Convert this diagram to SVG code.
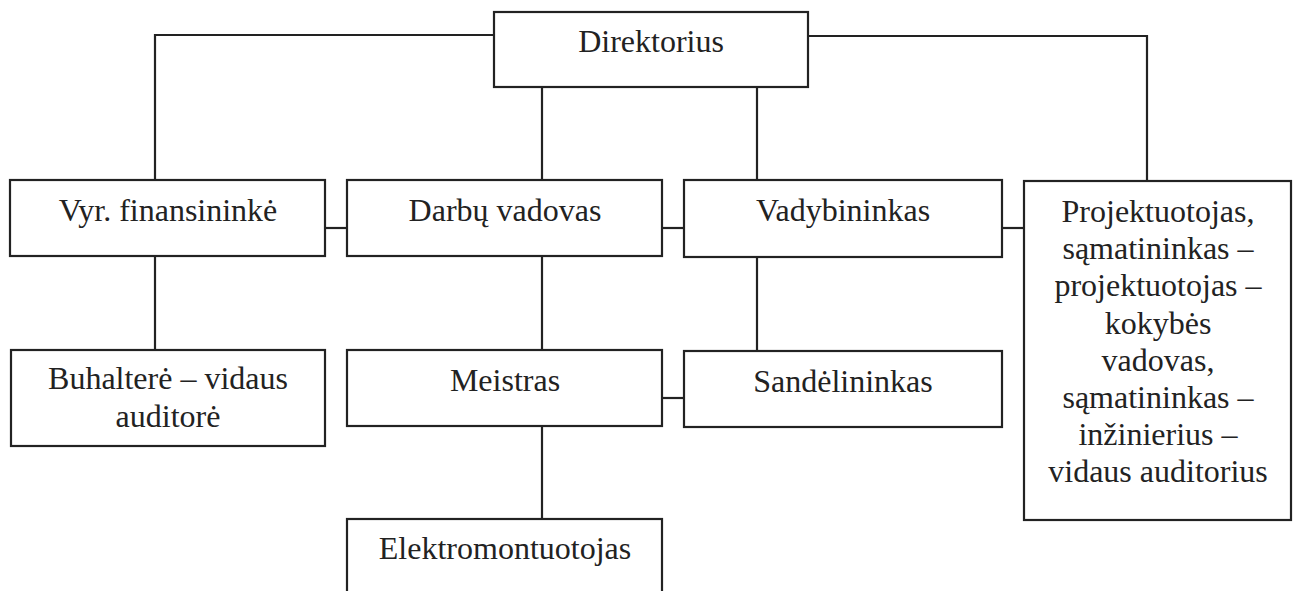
<svg xmlns="http://www.w3.org/2000/svg" width="1295" height="591" viewBox="0 0 1295 591">
<style>
.box{fill:none;stroke:#222;stroke-width:2.2}
.ln{fill:none;stroke:#222;stroke-width:2.2}
text{font-family:"Liberation Serif","Times New Roman",serif;font-size:32px;fill:#222;text-anchor:middle}
</style>
<rect x="0" y="0" width="1295" height="591" fill="#fff"/>
<g id="connectors">
<path class="ln" d="M494,35 H155 V180"/>
<path class="ln" d="M808,36 H1147 V181"/>
<path class="ln" d="M542,87 V180"/>
<path class="ln" d="M757,87 V180"/>
<path class="ln" d="M325,228 H347"/>
<path class="ln" d="M662,228 H684"/>
<path class="ln" d="M1002,228 H1024"/>
<path class="ln" d="M155,256 V350"/>
<path class="ln" d="M542,256 V350"/>
<path class="ln" d="M757,257 V351"/>
<path class="ln" d="M662,398 H684"/>
<path class="ln" d="M542,426 V519"/>
</g>
<g id="direktorius"><rect class="box" x="494" y="12" width="314" height="75"/><text x="651" y="52">Direktorius</text></g>
<g id="vyr-finansininke"><rect class="box" x="10" y="180" width="315" height="76"/><text x="168" y="221">Vyr. finansininkė</text></g>
<g id="darbu-vadovas"><rect class="box" x="347" y="180" width="315" height="76"/><text x="505" y="221">Darbų vadovas</text></g>
<g id="vadybininkas"><rect class="box" x="684" y="180" width="318" height="77"/><text x="843" y="221">Vadybininkas</text></g>
<g id="projektuotojas"><rect class="box" x="1024" y="181" width="267" height="339"/>
<text x="1158" y="222">Projektuotojas,</text>
<text x="1158" y="259">sąmatininkas –</text>
<text x="1158" y="296">projektuotojas –</text>
<text x="1158" y="334">kokybės</text>
<text x="1158" y="371">vadovas,</text>
<text x="1158" y="408">sąmatininkas –</text>
<text x="1158" y="445">inžinierius –</text>
<text x="1158" y="482">vidaus auditorius</text>
</g>
<g id="buhaltere"><rect class="box" x="11" y="350" width="314" height="96"/><text x="168" y="389">Buhalterė – vidaus</text><text x="168" y="427">auditorė</text></g>
<g id="meistras"><rect class="box" x="347" y="350" width="315" height="76"/><text x="505" y="391">Meistras</text></g>
<g id="sandelininkas"><rect class="box" x="684" y="351" width="318" height="76"/><text x="843" y="392">Sandėlininkas</text></g>
<g id="elektromontuotojas"><rect class="box" x="347" y="519" width="315" height="90"/><text x="505" y="559">Elektromontuotojas</text></g>
</svg>
